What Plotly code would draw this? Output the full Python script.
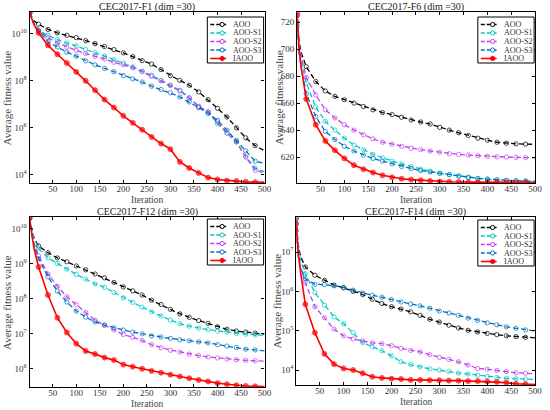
import plotly.graph_objects as go

# iteration grid (markers drawn every 20 iterations)
iters = [1, 5, 10, 20, 40, 60, 80, 100, 120, 140, 160, 180, 200, 220, 240, 260, 280, 300, 310,
         320, 340, 360, 380, 400, 420, 440, 460, 480, 500]
marker_on = [1, 0, 0, 1, 1, 1, 1, 1, 1, 1, 1, 1, 1, 1, 1, 1, 1, 1, 0,
             1, 1, 1, 1, 1, 1, 1, 1, 1, 0]

names = ["AOO", "AOO-S1", "AOO-S2", "AOO-S3", "IAOO"]
titles = ["CEC2017-F1 (dim =30)", "CEC2017-F6 (dim =30)",
          "CEC2017-F12 (dim =30)", "CEC2017-F14 (dim =30)"]

# F1 (log10 of average fitness)
f1_aoo_log10 = [10.88, 10.7, 10.55, 10.40, 10.18, 10.03, 9.93, 9.83, 9.70, 9.57, 9.45, 9.32, 9.18, 9.02, 8.85,
                8.70, 8.47, 8.21, 8.11, 8.01, 7.80, 7.52, 7.19, 6.82, 6.45, 5.99, 5.56, 5.23, 5.01]
f1_s1_log10 = [10.88, 10.75, 10.45, 10.14, 9.93, 9.74, 9.60, 9.48, 9.32, 9.19, 9.05, 8.89, 8.75, 8.58, 8.40,
               8.23, 8.01, 7.80, 7.70, 7.59, 7.28, 6.88, 6.67, 6.17, 5.77, 5.39, 4.75, 4.28, 4.11]
f1_s2_log10 = [10.88, 10.7, 10.4, 10.11, 9.83, 9.60, 9.43, 9.29, 9.15, 9.04, 8.92, 8.78, 8.67, 8.55, 8.38,
               8.18, 7.99, 7.79, 7.68, 7.56, 7.26, 6.91, 6.67, 6.24, 5.77, 5.39, 4.75, 4.18, 4.07]
f1_s3_log10 = [10.88, 10.7, 10.45, 10.14, 9.65, 9.43, 9.21, 9.04, 8.84, 8.67, 8.52, 8.38, 8.21, 8.07, 7.94,
               7.76, 7.62, 7.48, 7.39, 7.30, 7.09, 6.85, 6.60, 6.31, 5.89, 5.46, 5.01, 4.57, 4.47]
f1_iaoo_log10 = [10.88, 10.7, 10.4, 10.03, 9.50, 9.12, 8.75, 8.37, 7.99, 7.59, 7.19, 6.85, 6.50, 6.20, 5.91,
                 5.60, 5.32, 5.08, 4.80, 4.54, 4.28, 4.07, 3.87, 3.79, 3.74, 3.72, 3.69, 3.67, 3.67]

# F6 (average fitness)
f6_aoo = [727, 705, 697, 687, 676, 669, 665, 662.5, 660, 657.5, 655, 653, 651.5, 649.5, 647.5,
          646, 644.5, 642, 641, 640, 638, 636, 634, 632.5, 631, 630.3, 629.8, 629.6, 629.5]
f6_s1 = [720, 700, 690, 675, 657, 646.5, 640, 634, 629, 625.5, 622, 619.5, 617, 615, 613,
         611, 609.5, 608, 607.5, 607, 606, 605, 604, 603.5, 603, 602.5, 602.3, 602.2, 602]
f6_s2 = [727, 703, 694, 679, 666, 655, 649, 644, 640, 636.5, 633.5, 631, 629.5, 628, 626.5,
         625.5, 624.5, 623.5, 623, 622.5, 622, 621.5, 621, 620.5, 620.2, 620, 619.8, 619.6, 619.5]
f6_s3 = [717, 697, 685, 667, 650, 639, 633, 628, 624.5, 621.5, 619, 617, 615, 613, 611.5,
         610, 609, 608, 607.5, 607, 606, 605, 604.2, 603.7, 603.2, 602.8, 602.5, 602.3, 602.1]
f6_iaoo = [725, 700, 685, 663, 644, 632, 625, 619, 614, 611, 608.5, 606.5, 605, 604, 603.3,
           602.8, 602.3, 601.9, 601.8, 601.7, 601.5, 601.4, 601.3, 601.2, 601.2, 601.1, 601.1, 601.1, 601.1]

# F12 (log10 of average fitness)
f12_aoo_log10 = [10.3, 10.0, 9.75, 9.50, 9.31, 9.16, 9.05, 8.93, 8.82, 8.70, 8.59, 8.46, 8.33, 8.22, 8.10,
                 7.95, 7.83, 7.69, 7.62, 7.56, 7.46, 7.37, 7.29, 7.19, 7.12, 7.07, 7.04, 7.01, 6.98]
f12_s1_log10 = [10.3, 10.0, 9.76, 9.43, 9.16, 9.00, 8.84, 8.69, 8.55, 8.42, 8.32, 8.17, 8.02, 7.89, 7.75,
                7.62, 7.50, 7.38, 7.33, 7.28, 7.21, 7.15, 7.11, 7.07, 7.04, 7.00, 6.98, 6.96, 6.95]
f12_s2_log10 = [10.3, 9.9, 9.6, 9.22, 8.70, 8.35, 8.05, 7.83, 7.60, 7.38, 7.24, 7.10, 6.97, 6.89, 6.80,
                6.68, 6.59, 6.52, 6.50, 6.47, 6.41, 6.37, 6.33, 6.30, 6.27, 6.25, 6.23, 6.22, 6.21]
f12_s3_log10 = [10.3, 9.85, 9.55, 9.14, 8.62, 8.21, 7.90, 7.64, 7.47, 7.33, 7.24, 7.16, 7.10, 7.04, 6.99,
                6.93, 6.90, 6.86, 6.84, 6.82, 6.79, 6.76, 6.73, 6.68, 6.64, 6.60, 6.55, 6.53, 6.50]
f12_iaoo_log10 = [10.3, 9.85, 9.45, 8.90, 8.10, 7.45, 7.03, 6.71, 6.50, 6.41, 6.31, 6.24, 6.11, 6.05, 5.99,
                  5.93, 5.88, 5.82, 5.80, 5.77, 5.72, 5.67, 5.63, 5.58, 5.55, 5.52, 5.50, 5.49, 5.48]

# F14 (log10 of average fitness)
f14_aoo_log10 = [7.85, 7.2, 6.9, 6.62, 6.41, 6.28, 6.16, 6.09, 6.00, 5.92, 5.80, 5.69, 5.61, 5.55, 5.48,
                 5.39, 5.29, 5.22, 5.18, 5.14, 5.07, 5.01, 4.97, 4.93, 4.90, 4.87, 4.85, 4.83, 4.82]
f14_s1_log10 = [7.89, 7.1, 6.8, 6.45, 5.97, 5.65, 5.35, 5.18, 4.95, 4.70, 4.59, 4.49, 4.36, 4.21, 4.14,
                4.08, 4.03, 4.00, 3.98, 3.97, 3.92, 3.90, 3.87, 3.84, 3.81, 3.79, 3.78, 3.77, 3.76]
f14_s2_log10 = [7.85, 7.0, 6.6, 6.22, 5.61, 5.33, 5.04, 4.87, 4.79, 4.74, 4.69, 4.67, 4.62, 4.55, 4.50,
                4.46, 4.39, 4.32, 4.30, 4.27, 4.21, 4.13, 4.04, 4.02, 3.99, 3.96, 3.93, 3.92, 3.90]
f14_s3_log10 = [7.55, 6.9, 6.6, 6.32, 6.18, 6.17, 6.14, 6.10, 6.03, 5.96, 5.90, 5.85, 5.79, 5.73, 5.68,
                5.63, 5.57, 5.50, 5.47, 5.45, 5.39, 5.32, 5.26, 5.20, 5.15, 5.10, 5.06, 5.02, 4.99]
f14_iaoo_log10 = [7.72, 7.0, 6.5, 5.67, 4.95, 4.41, 4.15, 4.04, 4.00, 3.92, 3.83, 3.80, 3.78, 3.77, 3.75,
                  3.75, 3.74, 3.74, 3.74, 3.73, 3.73, 3.72, 3.72, 3.71, 3.70, 3.68, 3.65, 3.64, 3.63]

x_ticks = [50, 100, 150, 200, 250, 300, 350, 400, 450, 500]
f1_yticks = [1e4, 1e6, 1e8, 1e10]
f1_yticktext = ["10<sup>4</sup>", "10<sup>6</sup>", "10<sup>8</sup>", "10<sup>10</sup>"]
f6_yticks = [620, 640, 660, 680, 700, 720]
f12_yticks = [1e6, 1e7, 1e8, 1e9, 1e10]
f12_yticktext = ["10<sup>6</sup>", "10<sup>7</sup>", "10<sup>8</sup>", "10<sup>9</sup>", "10<sup>10</sup>"]
f14_yticks = [1e4, 1e5, 1e6, 1e7]
f14_yticktext = ["10<sup>4</sup>", "10<sup>5</sup>", "10<sup>6</sup>", "10<sup>7</sup>"]

colors = ["#000000", "#00C8C8", "#C040F0", "#0072BD", "#FF0000"]

W, H = 550, 410
FONT = "Liberation Serif"

panels = [
    dict(series=[[10 ** v for v in s] for s in [f1_aoo_log10, f1_s1_log10, f1_s2_log10, f1_s3_log10, f1_iaoo_log10]],
         log=True, yrange=[3.64, 10.92], yticks=f1_yticks, yticktext=f1_yticktext,
         box=(30, 268, 12, 183), leg_top=17, ytitle_dx=23),
    dict(series=[f6_aoo, f6_s1, f6_s2, f6_s3, f6_iaoo],
         log=False, yrange=[600.8, 727.5], yticks=f6_yticks, yticktext=[str(v) for v in f6_yticks],
         box=(301, 542, 12, 183), leg_top=17, ytitle_dx=19),
    dict(series=[[10 ** v for v in s] for s in [f12_aoo_log10, f12_s1_log10, f12_s2_log10, f12_s3_log10, f12_iaoo_log10]],
         log=True, yrange=[5.47, 10.33], yticks=f12_yticks, yticktext=f12_yticktext,
         box=(30, 268, 217, 387), leg_top=219, ytitle_dx=23),
    dict(series=[[10 ** v for v in s] for s in [f14_aoo_log10, f14_s1_log10, f14_s2_log10, f14_s3_log10, f14_iaoo_log10]],
         log=True, yrange=[3.62, 7.89], yticks=f14_yticks, yticktext=f14_yticktext,
         box=(300, 542, 217, 385), leg_top=220, ytitle_dx=19),
]


def px(x):
    return x / W


def py(y):
    return (H - y) / H


fig = go.Figure()
annotations = []
shapes = []
for i, p in enumerate(panels):
    k = "" if i == 0 else str(i + 1)
    xa, ya = "x" + k, "y" + k
    x0, x1, y0, y1 = p["box"]
    dom_x = [px(x0), px(x1)]
    dom_y = [py(y1), py(y0)]
    for j, (nm, vals) in enumerate(zip(names, p["series"])):
        is_iaoo = nm == "IAOO"
        sizes = [(5 if is_iaoo else 4.3) * m for m in marker_on]
        fig.add_trace(go.Scatter(
            x=iters, y=vals, name=nm, mode="lines+markers",
            xaxis=xa, yaxis=ya, showlegend=False,
            line=dict(color=colors[j], width=1.6 if is_iaoo else 1.3,
                      dash="solid" if is_iaoo else "5px,3px"),
            marker=dict(symbol="circle" if is_iaoo else "circle-open", size=sizes,
                        color=colors[j], line=dict(color=colors[j], width=1)),
        ))
    axcommon = dict(showline=True, linecolor="black", linewidth=1.2, mirror="ticks",
                    ticks="inside", ticklen=3, tickcolor="black", showgrid=False, zeroline=False,
                    tickfont=dict(family=FONT, size=9, color="#333"))
    fig.update_layout(**{
        "xaxis" + k: dict(domain=dom_x, range=[1, 500], tickvals=x_ticks, anchor=ya,
                          ticklabelstandoff=-3, **axcommon),
        "yaxis" + k: dict(domain=dom_y, type="log" if p["log"] else "linear", range=p["yrange"],
                          tickvals=p["yticks"], ticktext=p["yticktext"], anchor=xa, **axcommon),
    })
    cx = px((x0 + x1) / 2)
    annotations.append(dict(text=titles[i], x=cx, y=py(y0 - 5), xref="paper", yref="paper",
                            xanchor="center", yanchor="middle", showarrow=False,
                            font=dict(family=FONT, size=10, color="#222")))
    annotations.append(dict(text="Iteration", x=cx, y=py(y1 + 17), xref="paper", yref="paper",
                            xanchor="center", yanchor="middle", showarrow=False,
                            font=dict(family=FONT, size=9.5, color="#444")))
    annotations.append(dict(text="Average fitness value", x=px(x0 - p["ytitle_dx"]), y=py((y0 + y1) / 2),
                            xref="paper", yref="paper", xanchor="center", yanchor="middle",
                            textangle=-90, showarrow=False,
                            font=dict(family=FONT, size=11, color="#444")))

    # legend box (drawn in paper coordinates)
    lx1 = x1 - 1
    lx0 = lx1 - 57
    lt = p["leg_top"]
    lb = lt + 46
    shapes.append(dict(type="rect", xref="paper", yref="paper", x0=px(lx0), x1=px(lx1),
                       y0=py(lb), y1=py(lt), line=dict(color="black", width=1), fillcolor="white",
                       layer="above"))
    for j, nm in enumerate(names):
        is_iaoo = nm == "IAOO"
        ey = lt + 7.5 + j * 8.5
        shapes.append(dict(type="line", xref="paper", yref="paper", x0=px(lx0 + 3), x1=px(lx0 + 19),
                           y0=py(ey), y1=py(ey), layer="above",
                           line=dict(color=colors[j], width=1.6 if is_iaoo else 1.3,
                                     dash="solid" if is_iaoo else "4px,2px")))
        r = 2.1
        shapes.append(dict(type="circle", xref="paper", yref="paper",
                           x0=px(lx0 + 15 - r), x1=px(lx0 + 15 + r), y0=py(ey + r), y1=py(ey - r),
                           layer="above", line=dict(color=colors[j], width=1),
                           fillcolor=colors[j] if is_iaoo else "white"))
        annotations.append(dict(text=nm, x=px(lx0 + 24), y=py(ey), xref="paper", yref="paper",
                                xanchor="left", yanchor="middle", showarrow=False,
                                font=dict(family=FONT, size=8, color="#333")))

fig.update_layout(width=W, height=H, margin=dict(l=0, r=0, t=0, b=0),
                  paper_bgcolor="white", plot_bgcolor="white",
                  annotations=annotations, shapes=shapes)

fig.write_html("out.html", config={"displayModeBar": False},
               post_script="document.body.style.margin='0';document.body.style.padding='0';")
